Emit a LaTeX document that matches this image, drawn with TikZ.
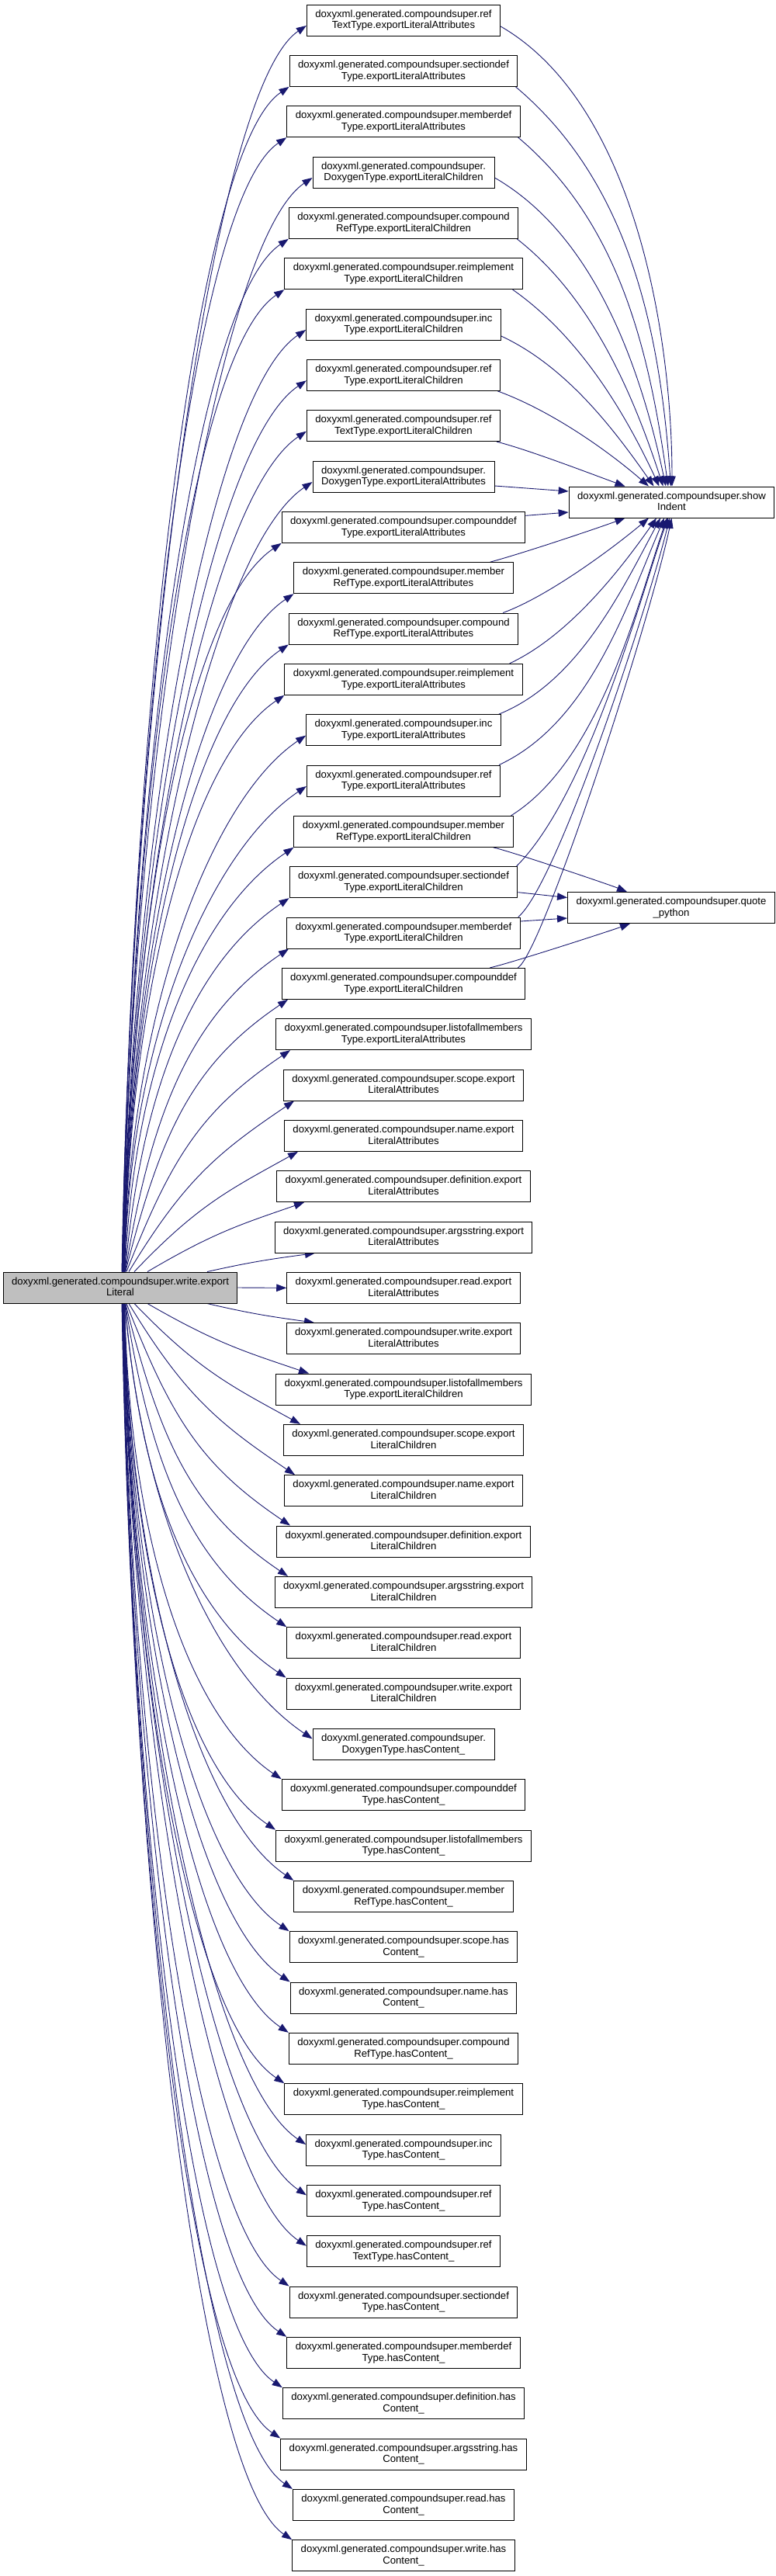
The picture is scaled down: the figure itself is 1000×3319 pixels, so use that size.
\documentclass[tikz,border=0pt]{standalone}
\usepackage{fontspec}
\setmainfont{Liberation Sans}
\usetikzlibrary{calc,arrows.meta}
\definecolor{edgecol}{RGB}{25,25,112}
\definecolor{mainfill}{RGB}{191,191,191}
\pgfdeclarelayer{bg}
\pgfsetlayers{bg,main}
\tikzset{
  fn/.style={draw=black, fill=white, line width=1pt, align=center,
    font=\fontsize{13.15}{14.7}\selectfont, inner xsep=11pt, inner ysep=0pt,
    minimum height=40pt},
  arr/.style={draw=edgecol, line width=0.9pt, -{Triangle[length=13pt,width=9.5pt]}}
}
\newcommand\mnode[3]{\node[fn] (b#1) at (520,{26+(#1-1)*65.333}) {doxyxml.generated.compoundsuper.#2\\#3\vphantom{y}};}
% fan edges, upper, corner tip
\newcommand\fanupc[3]{\draw[arr] let \p1=([xshift=#2 pt]L.north), \p2=(b#1.south west),
  \p3=({max(\x2,#3 pt)},\y2), \n1={atan2(\y3-\y1,\x3-\x1)}, \n2={veclen(\x3-\x1,\y3-\y1)},
  \n3={min(89,1.28*\n1)}, \n4={min(34,0.8*\n1)+180}, \n5={0.45*\n2}, \n6={min(0.39*\n2,150)}
  in (\p1) .. controls ($(\p1)+(\n3:\n5)$) and ($(\p3)+(\n4:\n6)$) .. (\p3);}
% fan edges, upper, west-side tip
\newcommand\fanupn[2]{\draw[arr] let \p1=([xshift=#2 pt]L.north), \p3=([yshift=-7pt]b#1.west),
  \n1={atan2(\y3-\y1,\x3-\x1)}, \n2={veclen(\x3-\x1,\y3-\y1)},
  \n3={min(89,1.28*\n1)}, \n4={min(34,0.8*\n1)+180}, \n5={0.45*\n2}, \n6={min(0.39*\n2,150)}
  in (\p1) .. controls ($(\p1)+(\n3:\n5)$) and ($(\p3)+(\n4:\n6)$) .. (\p3);}
% fan edges, lower, corner tip
\newcommand\fandnc[3]{\draw[arr] let \p1=([xshift=#2 pt]L.south), \p2=(b#1.north west),
  \p3=({max(\x2,#3 pt)},\y2), \n1={atan2(\y1-\y3,\x3-\x1)}, \n2={veclen(\x3-\x1,\y3-\y1)},
  \n3={0-min(89,1.28*\n1)}, \n4={180-min(34,0.8*\n1)}, \n5={0.45*\n2}, \n6={min(0.39*\n2,150)}
  in (\p1) .. controls ($(\p1)+(\n3:\n5)$) and ($(\p3)+(\n4:\n6)$) .. (\p3);}
% fan edges, lower, west-side tip
\newcommand\fandnn[2]{\draw[arr] let \p1=([xshift=#2 pt]L.south), \p3=([yshift=7pt]b#1.west),
  \n1={atan2(\y1-\y3,\x3-\x1)}, \n2={veclen(\x3-\x1,\y3-\y1)},
  \n3={0-min(89,1.28*\n1)}, \n4={180-min(34,0.8*\n1)}, \n5={0.45*\n2}, \n6={min(0.39*\n2,150)}
  in (\p1) .. controls ($(\p1)+(\n3:\n5)$) and ($(\p3)+(\n4:\n6)$) .. (\p3);}
% generic curve: start, end, out angle, in angle, start looseness, end looseness
\newcommand\rcurve[6]{\draw[arr] let \p1=#1, \p2=#2,
  \n1={veclen(\x2-\x1,\y2-\y1)*0.3915*#5}, \n2={veclen(\x2-\x1,\y2-\y1)*0.3915*#6}
  in (\p1) .. controls ($(\p1)+(#3:\n1)$) and ($(\p2)+(#4:\n2)$) .. (\p2);}

\begin{document}
\begin{tikzpicture}[x=1pt,y=-1pt]
\useasboundingbox (0,0) rectangle (1000,3319);

\node[fn, fill=mainfill] (L) at (155,1659) {doxyxml.generated.compoundsuper.write.export\\Literal\vphantom{y}};
\node[fn] (SI) at (865.5,647) {doxyxml.generated.compoundsuper.show\\Indent\vphantom{y}};
\node[fn] (QP) at (865,1169.5) {doxyxml.generated.compoundsuper.quote\\\_python\vphantom{y}};

\mnode{1}{ref}{TextType.exportLiteralAttributes}
\mnode{2}{sectiondef}{Type.exportLiteralAttributes}
\mnode{3}{memberdef}{Type.exportLiteralAttributes}
\mnode{4}{}{DoxygenType.exportLiteralChildren}
\mnode{5}{compound}{RefType.exportLiteralChildren}
\mnode{6}{reimplement}{Type.exportLiteralChildren}
\mnode{7}{inc}{Type.exportLiteralChildren}
\mnode{8}{ref}{Type.exportLiteralChildren}
\mnode{9}{ref}{TextType.exportLiteralChildren}
\mnode{10}{}{DoxygenType.exportLiteralAttributes}
\mnode{11}{compounddef}{Type.exportLiteralAttributes}
\mnode{12}{member}{RefType.exportLiteralAttributes}
\mnode{13}{compound}{RefType.exportLiteralAttributes}
\mnode{14}{reimplement}{Type.exportLiteralAttributes}
\mnode{15}{inc}{Type.exportLiteralAttributes}
\mnode{16}{ref}{Type.exportLiteralAttributes}
\mnode{17}{member}{RefType.exportLiteralChildren}
\mnode{18}{sectiondef}{Type.exportLiteralChildren}
\mnode{19}{memberdef}{Type.exportLiteralChildren}
\mnode{20}{compounddef}{Type.exportLiteralChildren}
\mnode{21}{listofallmembers}{Type.exportLiteralAttributes}
\mnode{22}{scope.export}{LiteralAttributes}
\mnode{23}{name.export}{LiteralAttributes}
\mnode{24}{definition.export}{LiteralAttributes}
\mnode{25}{argsstring.export}{LiteralAttributes}
\mnode{26}{read.export}{LiteralAttributes}
\mnode{27}{write.export}{LiteralAttributes}
\mnode{28}{listofallmembers}{Type.exportLiteralChildren}
\mnode{29}{scope.export}{LiteralChildren}
\mnode{30}{name.export}{LiteralChildren}
\mnode{31}{definition.export}{LiteralChildren}
\mnode{32}{argsstring.export}{LiteralChildren}
\mnode{33}{read.export}{LiteralChildren}
\mnode{34}{write.export}{LiteralChildren}
\mnode{35}{}{DoxygenType.hasContent\_}
\mnode{36}{compounddef}{Type.hasContent\_}
\mnode{37}{listofallmembers}{Type.hasContent\_}
\mnode{38}{member}{RefType.hasContent\_}
\mnode{39}{scope.has}{Content\_}
\mnode{40}{name.has}{Content\_}
\mnode{41}{compound}{RefType.hasContent\_}
\mnode{42}{reimplement}{Type.hasContent\_}
\mnode{43}{inc}{Type.hasContent\_}
\mnode{44}{ref}{Type.hasContent\_}
\mnode{45}{ref}{TextType.hasContent\_}
\mnode{46}{sectiondef}{Type.hasContent\_}
\mnode{47}{memberdef}{Type.hasContent\_}
\mnode{48}{definition.has}{Content\_}
\mnode{49}{argsstring.has}{Content\_}
\mnode{50}{read.has}{Content\_}
\mnode{51}{write.has}{Content\_}

\begin{pgfonlayer}{bg}
% fan from the main node
\draw[arr] (L.east) -- (b26.west);
\foreach \i/\s/\X in {2/2.25/0, 3/2.5/0, 5/3/0, 6/3.25/0, 11/4.5/0, 12/4.75/0, 13/5/0,
  14/5.25/0, 17/6/0, 18/6.25/0, 19/6.5/372, 20/6.75/371, 21/8/374, 22/11/379, 23/18/384,
  24/35/392, 25/112/406} {\fanupc{\i}{\s}{\X}}
\foreach \i/\s in {1/2, 4/2.75, 7/3.5, 8/3.75, 9/4, 10/4.25, 15/5.5, 16/5.75} {\fanupn{\i}{\s}}
\foreach \i/\s/\X in {27/112/405, 28/35/398, 29/18/387, 30/11/380, 31/8/374, 32/6.75/371,
  33/6.5/0, 34/6.25/0, 36/5.75/0, 37/5.5/0, 38/5.25/0, 39/5/0, 40/4.75/0, 41/4.5/0,
  42/4.25/0, 46/3.25/0, 47/3/0, 48/2.75/0, 49/2.5/0, 50/2.25/0, 51/2/0} {\fandnc{\i}{\s}{\X}}
\foreach \i/\s in {35/6, 43/4, 44/3.75, 45/3.5} {\fandnn{\i}{\s}}

% edges into showIndent from above
\rcurve{([yshift=-8pt]b1.east)}{([xshift=0.5pt]SI.north)}{-30}{90}{0.8}{0.8}
\rcurve{([xshift=-3pt]b2.south east)}{([xshift=-1pt]SI.north)}{-40}{94}{0.9}{0.9}
\rcurve{([xshift=-3pt]b3.south east)}{([xshift=-4.5pt]SI.north)}{-40}{98}{0.9}{0.9}
\rcurve{([yshift=-7pt]b4.east)}{([xshift=-7.5pt]SI.north)}{-30}{102}{0.85}{0.85}
\rcurve{([xshift=-2pt]b5.south east)}{([xshift=-11pt]SI.north)}{-38}{108}{0.85}{0.85}
\rcurve{([xshift=-13pt]b6.south east)}{([xshift=-16pt]SI.north)}{-35}{115}{0.85}{0.85}
\rcurve{([yshift=-15pt]b7.east)}{([xshift=-23pt]SI.north)}{-25}{125}{0.85}{0.85}
\rcurve{([xshift=-4pt]b8.south east)}{([xshift=-29.5pt]SI.north)}{-20}{139}{0.8}{0.8}
\rcurve{([xshift=-5pt]b9.south east)}{([xshift=-60pt]SI.north)}{-14}{160}{0.6}{0.6}
% from the left
\draw[arr] ([yshift=-12pt]b10.east) -- ([yshift=14pt]SI.west);
\draw[arr] ([yshift=15pt]b11.east) -- ([yshift=-13pt]SI.west);
% from below
\rcurve{([xshift=-30pt]b12.north east)}{([xshift=-60pt]SI.south)}{15}{200}{0.6}{0.6}
\rcurve{([xshift=-20pt]b13.north east)}{([xshift=-29.5pt]SI.south)}{20}{220}{0.7}{0.7}
\rcurve{([xshift=-17pt]b14.north east)}{([xshift=-19.5pt]SI.south)}{25}{235}{0.8}{0.8}
\rcurve{([xshift=-3pt]b15.north east)}{([xshift=-14.5pt]SI.south)}{22}{242}{0.85}{0.85}
\rcurve{([xshift=-2pt]b16.north east)}{([xshift=-9.5pt]SI.south)}{25}{247}{0.85}{0.85}
\rcurve{([xshift=-3pt]b17.north east)}{([xshift=-6pt]SI.south)}{32}{251}{0.8}{0.7}
\rcurve{([xshift=-2pt]b18.north east)}{([xshift=-4.5pt]SI.south)}{45}{250}{0.7}{0.5}
\rcurve{([xshift=-3pt]b19.north east)}{([xshift=-2.5pt]SI.south)}{40}{256}{0.3}{0.6}
\rcurve{([xshift=-10pt]b20.north east)}{(SI.south)}{30}{258}{0.15}{0.6}

% edges into quote_python
\rcurve{([xshift=-26pt]b17.south east)}{([xshift=-57pt]QP.north)}{-13}{158}{0.35}{0.35}
\draw[arr] ([yshift=-13pt]b18.east) -- ([yshift=13pt]QP.west);
\draw[arr] ([yshift=15pt]b19.east) -- ([yshift=-13.5pt]QP.west);
\rcurve{([xshift=-46pt]b20.north east)}{([xshift=-53pt]QP.south)}{12}{200}{0.35}{0.35}
\end{pgfonlayer}
\end{tikzpicture}
\end{document}
